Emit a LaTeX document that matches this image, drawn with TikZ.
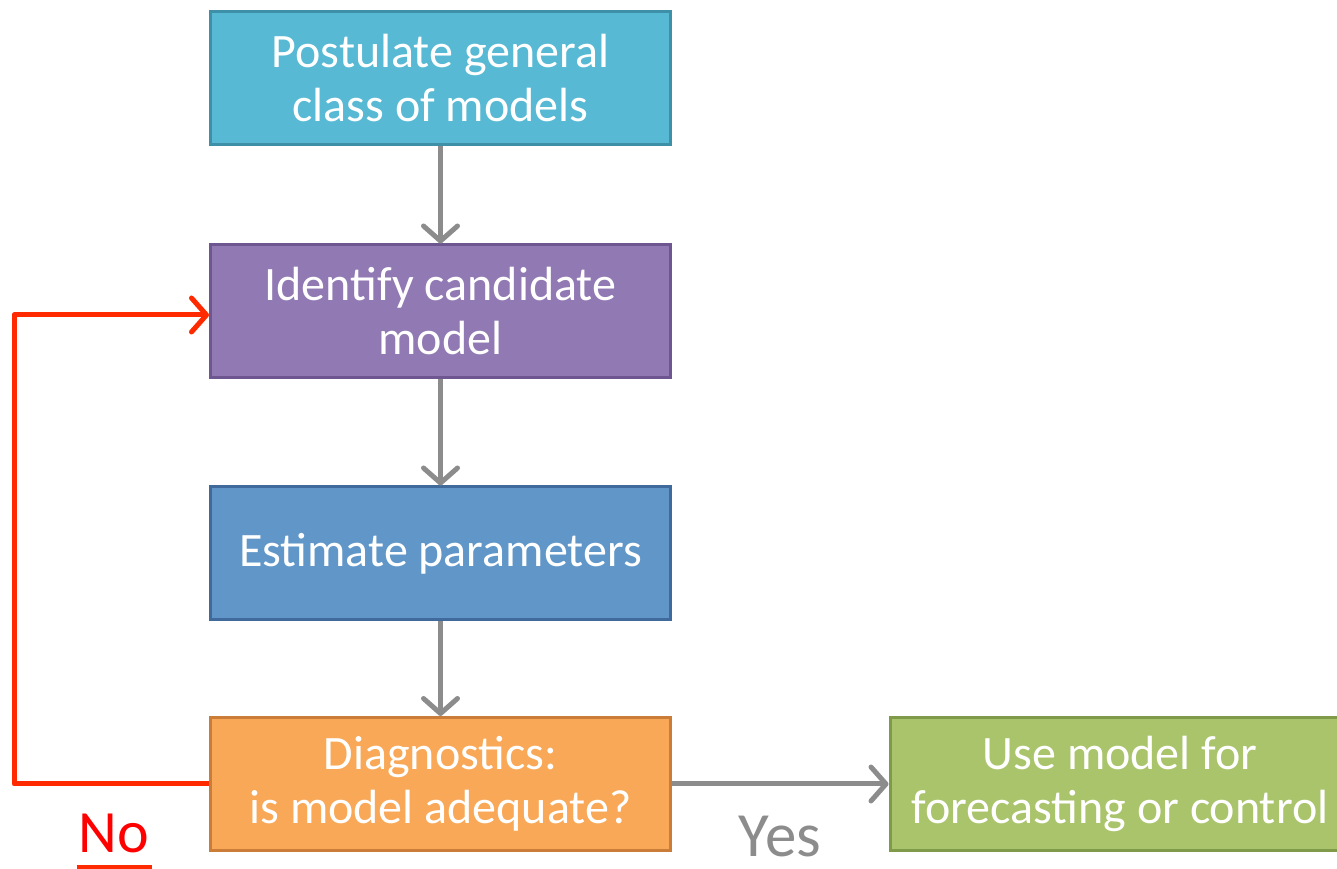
\documentclass[tikz,border=0pt]{standalone}
\usepackage{fontspec}
\setmainfont{Carlito}
\usetikzlibrary{arrows.meta}
\definecolor{aquafill}{HTML}{57B9D3}
\definecolor{aqualine}{HTML}{3D90A8}
\definecolor{purplefill}{HTML}{9179B3}
\definecolor{purpleline}{HTML}{6E5690}
\definecolor{bluefill}{HTML}{6096C8}
\definecolor{blueline}{HTML}{40699C}
\definecolor{orangefill}{HTML}{F8A857}
\definecolor{orangeline}{HTML}{C97D39}
\definecolor{greenfill}{HTML}{AAC46C}
\definecolor{greenline}{HTML}{7F9A48}
\definecolor{flowgray}{HTML}{8C8C8C}
\definecolor{backred}{HTML}{FF2A00}
\tikzstyle{stage}=[rectangle, draw, line width=3pt, minimum width=460pt, minimum height=133pt, inner sep=0pt, align=center, text=white, font=\fontsize{48}{54}\selectfont]
\tikzstyle{answer}=[inner sep=0pt, anchor=base]
\tikzstyle{flow}=[draw=flowgray, line width=5pt, -{Straight Barb[length=15pt,width=34pt,round]}]
\tikzstyle{back}=[draw=backred, line width=5pt, line join=round, -{Straight Barb[length=15pt,width=34pt,round]}]
\newcommand{\stage}{\node[stage]}
\begin{document}
\begin{tikzpicture}[x=1pt,y=1pt]
                    \useasboundingbox (0,0) rectangle (1337,869);
                    \stage[fill=aquafill, draw=aqualine] (postulate) at (440.5,791) {Postulate general\\class of models};
                    \stage[fill=purplefill, draw=purpleline] (identify) at (440.5,557.5) {Identify candidate\\model};
                    \stage[fill=bluefill, draw=blueline] (estimate) at (440.5,315.5) {Estimate parameters};
                    \stage[fill=orangefill, draw=orangeline] (diagnose) at (440.5,85) {Diagnostics:\\is model adequate?};
                    \stage[fill=greenfill, draw=greenline] (use) at (1120,85) {Use model for\\forecasting or control};
                    \coordinate (corner) at (14,554);
                    \node[answer, text=flowgray, font=\fontsize{63}{70}\selectfont] (yes) at (780,12) {Yes};
                    \node[answer, text=red, font=\fontsize{60}{70}\selectfont] (no) at (114,16) {No};
                    \draw[backred, line width=3.5pt] ([xshift=-2pt,yshift=-14pt]no.base west) -- ([xshift=3pt,yshift=-14pt]no.base east);
                    \path[flow]
                        (postulate) -- (identify);
                    \path[flow]
                        (identify) -- (estimate);
                    \path[flow]
                        (estimate) -- (diagnose);
                    \path[flow]
                        (diagnose) -- (use);
                    \path[back] (diagnose.west) -| (corner) -- (identify.west |- corner);
                \end{tikzpicture}
\end{document}
